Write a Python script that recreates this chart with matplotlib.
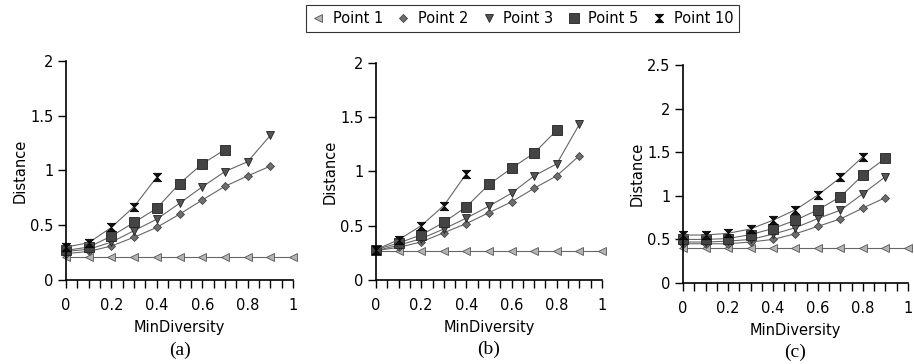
import numpy as np
import matplotlib
matplotlib.use("Agg")
import matplotlib.pyplot as plt
from matplotlib.path import Path

# MinDiversity values
x_full = [0, 0.1, 0.2, 0.3, 0.4, 0.5, 0.6, 0.7, 0.8, 0.9, 1.0]

# panel (a)
a_p1 = [0.21, 0.21, 0.21, 0.21, 0.21, 0.21, 0.21, 0.21, 0.21, 0.21, 0.21]
a_p2 = [0.24, 0.26, 0.31, 0.39, 0.48, 0.60, 0.73, 0.855, 0.95, 1.04]
a_p3 = [0.26, 0.28, 0.345, 0.45, 0.555, 0.70, 0.85, 0.99, 1.08, 1.32]
a_p5 = [0.27, 0.30, 0.40, 0.525, 0.655, 0.88, 1.06, 1.19]
a_p10 = [0.30, 0.34, 0.48, 0.67, 0.94]

# panel (b)
b_p1 = [0.27, 0.27, 0.27, 0.27, 0.27, 0.27, 0.27, 0.27, 0.27, 0.27, 0.27]
b_p2 = [0.27, 0.30, 0.35, 0.435, 0.52, 0.62, 0.72, 0.845, 0.96, 1.145]
b_p3 = [0.27, 0.32, 0.38, 0.47, 0.57, 0.68, 0.80, 0.96, 1.07, 1.435]
b_p5 = [0.28, 0.34, 0.415, 0.53, 0.675, 0.88, 1.03, 1.17, 1.38]
b_p10 = [0.28, 0.37, 0.50, 0.685, 0.98]

# panel (c)
c_p1 = [0.40, 0.40, 0.40, 0.40, 0.40, 0.40, 0.40, 0.40, 0.40, 0.40, 0.40]
c_p2 = [0.45, 0.45, 0.45, 0.47, 0.50, 0.565, 0.65, 0.735, 0.86, 0.98]
c_p3 = [0.47, 0.47, 0.48, 0.50, 0.56, 0.635, 0.74, 0.835, 1.025, 1.22]
c_p5 = [0.50, 0.50, 0.51, 0.555, 0.625, 0.72, 0.84, 0.99, 1.24, 1.43]
c_p10 = [0.55, 0.55, 0.57, 0.62, 0.72, 0.84, 1.01, 1.21, 1.45]

labels = ["Point 1", "Point 2", "Point 3", "Point 5", "Point 10"]
panel_tags = ["(a)", "(b)", "(c)"]
y_tops = [2, 2, 2.5]
x_ticks = [0, 0.2, 0.4, 0.6, 0.8, 1.0]
x_ticklabels = ["0", "0.2", "0.4", "0.6", "0.8", "1"]

hourglass = Path([(-1, 1), (1, 1), (-1, -1), (1, -1), (-1, 1)],
                 [Path.MOVETO, Path.LINETO, Path.LINETO, Path.LINETO, Path.CLOSEPOLY])

styles = [
    dict(marker="<", ms=5.5, mfc="#b4b4b4", mec="#555555"),
    dict(marker="D", ms=4, mfc="#6e6e6e", mec="#444444"),
    dict(marker="v", ms=5.5, mfc="#555555", mec="#222222"),
    dict(marker="s", ms=6.5, mfc="#444444", mec="#222222"),
    dict(marker=hourglass, ms=6, mfc="#111111", mec="#000000"),
]

panels = [
    [a_p1, a_p2, a_p3, a_p5, a_p10],
    [b_p1, b_p2, b_p3, b_p5, b_p10],
    [c_p1, c_p2, c_p3, c_p5, c_p10],
]

rects = [
    [0.0722, 0.2310, 0.2484, 0.6014],
    [0.4114, 0.2310, 0.2472, 0.5960],
    [0.7473, 0.2225, 0.2461, 0.5989],
]

fig = plt.figure(figsize=(9.14, 3.64), dpi=100)

handles = []
for k, (series, rect) in enumerate(zip(panels, rects)):
    ax = fig.add_axes(rect)
    for j, ys in enumerate(series):
        line, = ax.plot(x_full[:len(ys)], ys, color="#666666", lw=0.8,
                        mew=0.6, clip_on=False, **styles[j])
        if k == 0:
            handles.append(line)
    ax.set_xlim(0, 1)
    ax.set_ylim(0, y_tops[k])
    ax.set_xticks(x_ticks)
    ax.set_xticklabels(x_ticklabels)
    ax.set_xticks(np.arange(0, 1.001, 0.05), minor=True)
    yt = np.arange(0, y_tops[k] + 0.01, 0.5)
    ax.set_yticks(yt)
    ax.set_yticklabels(["%g" % v for v in yt])
    for s in ["top", "right"]:
        ax.spines[s].set_visible(False)
    ax.spines["left"].set_linewidth(1.2)
    ax.spines["bottom"].set_linewidth(1.2)
    ax.tick_params(axis="x", which="both", direction="out", length=6, width=1.0,
                   pad=7, labelsize=10.5)
    ax.tick_params(axis="y", direction="out", length=6, width=1.0, pad=3,
                   labelsize=10.5)
    ax.set_xlabel("MinDiversity", fontsize=10.5, labelpad=5)
    ax.set_ylabel("Distance", fontsize=10.5, labelpad=2)
    ax.text(0.5, -0.32, panel_tags[k], transform=ax.transAxes, ha="center",
            va="center", fontsize=14, family="Liberation Serif")

leg = fig.legend(handles, labels, loc="center", bbox_to_anchor=(0.572, 0.95),
                 ncol=5, fontsize=10.5, frameon=True, fancybox=False,
                 handlelength=0.8, handletextpad=0.6, columnspacing=1.0,
                 borderpad=0.4)
leg.get_frame().set_edgecolor("black")
leg.get_frame().set_linewidth(0.8)
for h in leg.legend_handles:
    h.set_linestyle("none")

fig.savefig("out.png", dpi=100)
